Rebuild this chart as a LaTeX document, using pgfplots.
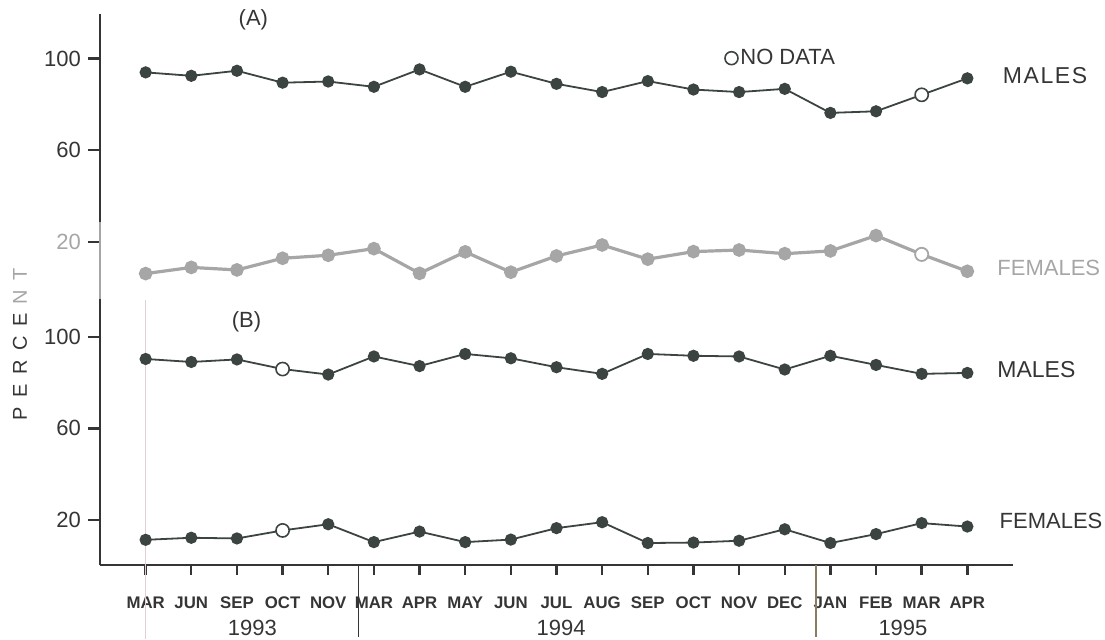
\documentclass[border=0pt]{standalone}
\usepackage{fontspec}
\setmainfont{Liberation Sans}
\usepackage{pgfplots}
\usepackage{pgfplotstable}
\pgfplotsset{compat=1.18}
\definecolor{dk}{HTML}{3B4440}
\definecolor{lg}{HTML}{A6A6A6}
\definecolor{tx}{HTML}{353535}
\definecolor{br}{HTML}{8B7D62}
\definecolor{pk}{HTML}{E2CFD4}

\pgfplotstableread{
x am af bm bf
0 94.0 6.1 90.3 11.3
1 92.5 8.8 89.0 12.2
2 94.7 7.7 90.1 11.9
3 89.5 12.8 85.9 15.4
4 90.0 14.1 83.5 18.1
5 87.7 17.0 91.4 10.3
6 95.3 6.2 87.2 14.9
7 87.7 15.6 92.5 10.3
8 94.3 6.7 90.6 11.4
9 89.0 13.8 86.7 16.4
10 85.4 18.6 83.8 19.0
11 90.2 12.4 92.5 9.9
12 86.5 15.7 91.7 10.1
13 85.4 16.4 91.4 10.9
14 86.8 14.8 85.7 15.9
15 76.3 16.0 91.7 9.9
16 77.0 22.7 87.7 13.8
17 84.2 14.5 83.8 18.6
18 91.4 7.1 84.2 17.1
}\data

\begin{document}
\begin{tikzpicture}
\useasboundingbox (-50pt,-37pt) rectangle (502.5pt,282.5pt);
\begin{axis}[
  at={(0,0)}, anchor=south west, scale only axis,
  width=456.5pt, height=275.5pt,
  xmin=-1, xmax=19, ymin=0.3, ymax=241,
  axis x line*=bottom, axis y line*=left,
  axis line style={tx, line width=1.2pt},
  clip=false,
  xtick={0,...,18},
  xticklabels={MAR,JUN,SEP,OCT,NOV,MAR,APR,MAY,JUN,JUL,AUG,SEP,OCT,NOV,DEC,JAN,FEB,MAR,APR},
  ytick={20,60,100,141.5,181.5,221.5},
  yticklabels={20,60,100,\textcolor{lg}{20},60,100},
  tick align=outside, major tick length=6pt,
  xtick style={/pgfplots/major tick length=5pt},
  tick style={tx, line width=1.2pt},
  yticklabel style={font=\fontsize{11}{11}\selectfont, text=tx},
  xticklabel style={font=\bfseries\fontsize{8.4}{8.4}\selectfont, text=tx, yshift=-6.5pt},
  legend style={at={(axis cs:12.84,221.7)}, anchor=west, xshift=-3.6pt, draw=none, fill=none, inner sep=0pt,
    font=\fontsize{11}{11}\selectfont, text=tx, nodes={inner xsep=1.2pt}},
  legend image code/.code={\draw[#1, mark size=3.25pt] plot coordinates {(0pt,0pt)};},
]
\addplot[dk, line width=0.9pt, mark=*, mark size=2.6pt, mark options={fill=dk, draw=dk}, forget plot]
  table[x=x, y expr=\thisrow{am}+121.5]{\data};
\addplot[lg, line width=1.6pt, mark=*, mark size=2.6pt, mark options={fill=lg, draw=lg}, forget plot]
  table[x=x, y expr=\thisrow{af}+121.5]{\data};
\addplot[dk, line width=0.9pt, mark=*, mark size=2.6pt, mark options={fill=dk, draw=dk}, forget plot]
  table[x=x, y=bm]{\data};
\addplot[dk, line width=0.9pt, mark=*, mark size=2.6pt, mark options={fill=dk, draw=dk}, forget plot]
  table[x=x, y=bf]{\data};
% open circles: no data
\addplot[only marks, mark=*, mark size=3.3pt, mark options={fill=white, draw=dk, line width=0.8pt},
  restrict expr to domain={\coordindex}{17:17}]
  table[x=x, y expr=\thisrow{am}+121.5]{\data};
\addlegendentry{NO DATA}
\addplot[only marks, mark=*, mark size=3.3pt, mark options={fill=white, draw=lg, line width=0.9pt},
  restrict expr to domain={\coordindex}{17:17}, forget plot]
  table[x=x, y expr=\thisrow{af}+121.5]{\data};
\addplot[only marks, mark=*, mark size=3.3pt, mark options={fill=white, draw=dk, line width=0.8pt},
  restrict expr to domain={\coordindex}{3:3}, forget plot]
  table[x=x, y=bm]{\data};
\addplot[only marks, mark=*, mark size=3.3pt, mark options={fill=white, draw=dk, line width=0.8pt},
  restrict expr to domain={\coordindex}{3:3}, forget plot]
  table[x=x, y=bf]{\data};

% decorations
\draw[lg, line width=1.2pt] (axis cs:-1,116.5) -- (axis cs:-1,150.1);
\draw[pk, line width=0.6pt] (axis cs:0,116) -- (axis cs:0,-32);
\draw[tx, line width=0.75pt] (axis cs:4.66,0.3) -- (axis cs:4.66,-31.1);
\draw[br, line width=0.75pt] (axis cs:14.68,0.3) -- (axis cs:14.68,-31.1);
\node[text=tx, font=\fontsize{11}{11}\selectfont] at (axis cs:2.34,-27.2) {1993};
\node[text=tx, font=\fontsize{11}{11}\selectfont] at (axis cs:9.1,-27.2) {1994};
\node[text=tx, font=\fontsize{11}{11}\selectfont] at (axis cs:16.59,-27.2) {1995};
\node[text=tx, font=\fontsize{11}{11}\selectfont] at (axis cs:2.36,238.3) {(A)};
\node[text=tx, font=\fontsize{11}{11}\selectfont] at (axis cs:2.21,106.4) {(B)};
\node[anchor=west, text=tx, font=\fontsize{11.5}{11.5}\selectfont, inner sep=0pt] at (axis cs:18.77,214.3)
  {M\kern0.8pt A\kern0.8pt L\kern0.8pt E\kern0.8pt S};
\node[anchor=west, text=lg, font=\fontsize{11}{11}\selectfont, inner sep=0pt] at (axis cs:18.65,130.0) {FEMALES};
\node[anchor=west, text=tx, font=\fontsize{11.5}{11.5}\selectfont, inner sep=0pt] at (axis cs:18.65,85.5) {MALES};
\node[anchor=west, text=tx, font=\fontsize{11}{11}\selectfont, inner sep=0pt] at (axis cs:18.7,19.5) {FEMALES};
\node[rotate=90, font=\fontsize{10}{10}\selectfont, text=tx] at (axis description cs:-0.0876,0.401)
  {P\hspace{4.7pt}E\hspace{4.7pt}R\hspace{4.7pt}C\hspace{4.7pt}E\hspace{4.7pt}\textcolor{lg}{N\hspace{4.7pt}T}};
\end{axis}
\end{tikzpicture}
\end{document}
